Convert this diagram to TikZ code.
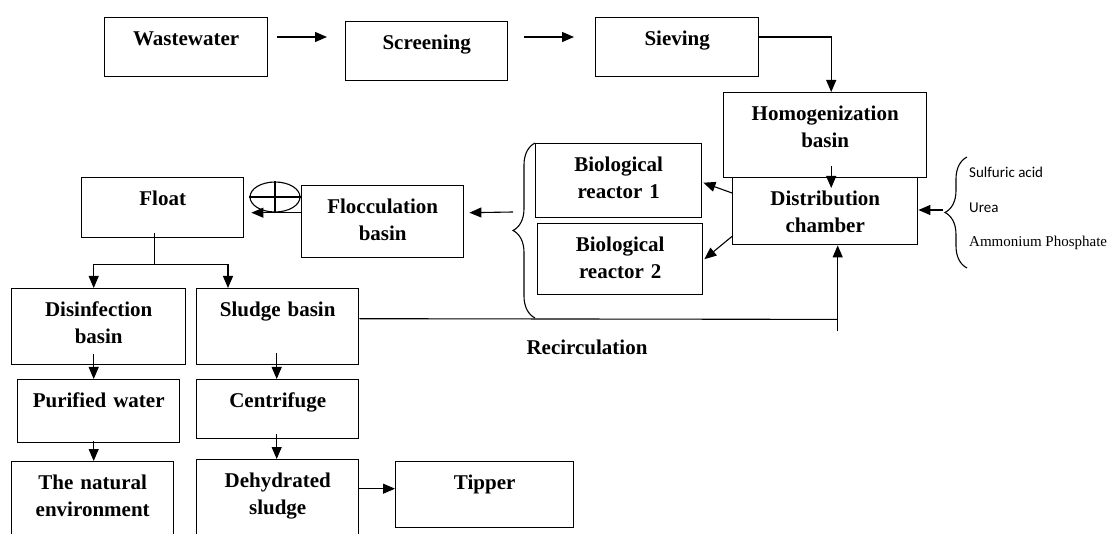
\documentclass[tikz,border=0pt]{standalone}
\usepackage{fontspec}
\setmainfont{Liberation Serif}
\newfontfamily\calfont{Carlito}
\usetikzlibrary{shapes.geometric,arrows.meta,decorations.pathreplacing}

\begin{document}
\begin{tikzpicture}[
				x=1pt, y=-1pt,
				>={Triangle[length=12pt,width=10pt]},
				box/.style={rectangle, draw, line width=1.4pt, inner sep=0pt, anchor=north west, align=center, text height=28pt, font=\fontsize{21}{27}\selectfont\bfseries},
				flow/.style={->, line width=1.1pt},
				pipe/.style={line width=1.1pt},
				curly/.style={line width=1.1pt, decorate, decoration={brace, amplitude=22pt}},
				note/.style={anchor=west, inner sep=0pt, font=\fontsize{15}{18}\selectfont},
				notesans/.style={note, font=\calfont\fontsize{15}{18}\selectfont}
				]
				\useasboundingbox (0,0) rectangle (1111,534);
				\node[box, text width=163pt, text depth=31pt] (ww) at (104,17) {Wastewater};
				\node[box, text width=162pt, text depth=31pt] (scr) at (345,21) {Screening};
				\node[box, text width=163pt, text depth=31pt] (sie) at (595,17) {Sieving};
				\node[box, text width=203pt, text depth=57pt] (hom) at (723,92) {Homogenization\\basin};
				\node[box, text width=185pt, text depth=39pt] (dist) at (732,177) {Distribution\\chamber};
				\node[box, text width=166pt, text depth=46pt] (bio1) at (535,143) {Biological\\reactor 1};
				\node[box, text width=165pt, text depth=43pt] (bio2) at (537,223) {Biological\\reactor 2};
				\node[box, text width=162pt, text depth=44pt] (floc) at (301,185) {Flocculation\\basin};
				\node[box, text width=162pt, text depth=32pt] (float) at (81,177) {Float};
				\node[box, text width=174pt, text depth=48pt] (disinf) at (11,288) {Disinfection\\basin};
				\node[box, text width=162pt, text depth=48pt] (sludge) at (196,288) {Sludge basin};
				\node[box, text width=162pt, text depth=35pt] (pure) at (17,379) {Purified water};
				\node[box, text width=162pt, text depth=31pt] (centr) at (196,379) {Centrifuge};
				\node[box, text width=162pt, text depth=52pt] (nature) at (11,461) {The natural\\environment};
				\node[box, text width=162pt, text depth=54pt] (dehyd) at (196,459) {Dehydrated\\sludge};
				\node[box, text width=178pt, text depth=38pt] (tipper) at (395,461) {Tipper};
				\node[ellipse, draw, line width=1.1pt, minimum width=50pt, minimum height=30pt, inner sep=0pt] (mixer) at (275,197) {};
				\draw[pipe] (mixer.north) -- (mixer.south) (mixer.west) -- (mixer.east);
				
				\node[notesans] (acid) at (969,172) {Sulfuric acid};
				\node[notesans] (urea) at (969,208) {Urea};
				\node[note] (phos) at (969,243) {Ammonium Phosphate};
				\node[font=\fontsize{21}{27}\selectfont\bfseries] (recirc) at (587,347) {Recirculation};
				
				\draw[curly] (535,318) -- (535,143);
				\draw[curly] (967,268) -- (967,157);
				\coordinate (bioout) at (513,212);
				\coordinate (chemtip) at (943,210);
				
				\draw[flow] ([shift={(9,20)}]ww.north east) -- ([shift={(-18,16)}]scr.north west);
				\draw[flow] ([shift={(16,16)}]scr.north east) -- ([shift={(-21,20)}]sie.north west);
				\draw[flow] ([shift={(0,20)}]sie.north east) -| ([shift={(6,0)}]hom.north);
				\draw[flow] ([shift={(6,-12)}]hom.south) -- ([shift={(6,11)}]dist.north);
				\draw[flow] ([shift={(0,16)}]dist.north west) -- ([shift={(1,2)}]bio1.east);
				\draw[flow] ([shift={(0,-9)}]dist.south west) -- ([shift={(1,0)}]bio2.east);
				\draw[flow] (chemtip) -- (chemtip -| dist.east);
				\draw[flow] (bioout) -- ([shift={(5,-9)}]floc.east);
				\draw[flow] ([shift={(0,-9)}]floc.west) -- ([shift={(7,5)}]float.east);
				
				\draw[pipe] ([shift={(-8,-5)}]float.south) -- ++(0,31) coordinate (split);
				\draw[flow] (split) -| ([shift={(-5,0)}]disinf.north);
				\draw[flow] (split) -| ([shift={(32,0)}]sludge.north west);
				\draw[flow] ([shift={(-5,-11)}]disinf.south) -- ([shift={(-5,0)}]pure.north);
				\draw[flow] ([shift={(-5,-2)}]pure.south) -- ([shift={(1,0)}]nature.north);
				\draw[flow] ([shift={(-1,-12)}]sludge.south) -- ([shift={(-1,0)}]centr.north);
				\draw[flow] ([shift={(-1,-5)}]centr.south) -- ([shift={(-1,0)}]dehyd.north);
				\draw[flow] ([shift={(0,-12)}]dehyd.east) -- ([shift={(0,-6)}]tipper.west);
				
				\draw[pipe] ([shift={(0,-8)}]sludge.east) -- ([shift={(12.5,74)}]dist.south);
				\draw[flow] ([shift={(12.5,86)}]dist.south) -- ([shift={(12.5,0)}]dist.south);
\end{tikzpicture}
\end{document}
